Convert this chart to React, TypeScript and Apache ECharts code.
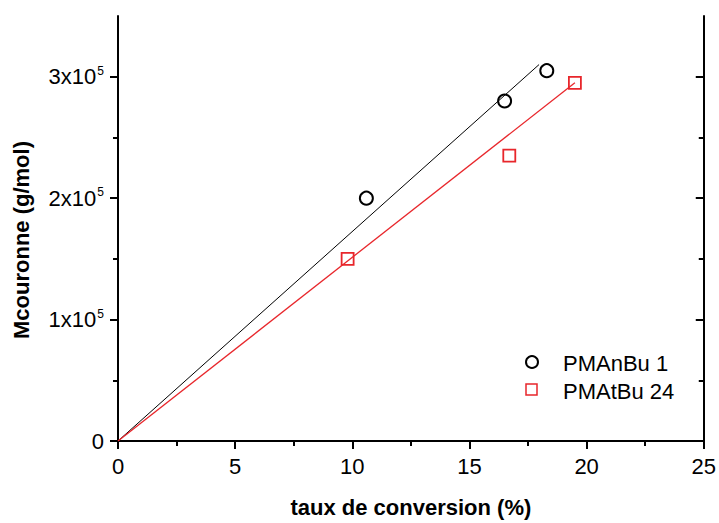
import React, { useEffect, useRef } from "react";
import * as echarts from "echarts";

const seriesNames = ["PMAnBu 1", "PMAtBu 24"];
const nBuPoints: [number, number][] = [
  [10.6, 200000],
  [16.5, 280000],
  [18.3, 305000],
];
const tBuPoints: [number, number][] = [
  [9.8, 150000],
  [16.7, 235000],
  [19.5, 295000],
];
const nBuFit: [number, number][] = [
  [0, 0],
  [17.97, 310000],
];
const tBuFit: [number, number][] = [
  [0, 0],
  [19.5, 295000],
];
const yMajor = [0, 100000, 200000, 300000];
const yMinor = [50000, 150000, 250000];
const yLabels: Record<number, string> = {
  0: "0",
  100000: "{a|1x10}{b|5}",
  200000: "{a|2x10}{b|5}",
  300000: "{a|3x10}{b|5}",
};
const xTitle = "taux de conversion (%)";
const yTitle = "Mcouronne (g/mol)";

const FONT = "Liberation Sans, Arial, sans-serif";
const RED = "#e8262b";

export default function App() {
  const ref = useRef<HTMLDivElement>(null);
  useEffect(() => {
    document.body.style.margin = "0";
    if (!ref.current) return;
    const chart = echarts.init(ref.current, undefined, { renderer: "svg" });
    const lineStyle = { color: "#000", width: 2 };
    const baseY = {
      type: "value" as const,
      min: 0,
      max: 350000,
      splitLine: { show: false },
    };
    chart.setOption({
      animation: false,
      backgroundColor: "#fff",
      textStyle: { fontFamily: FONT },
      grid: { left: 118, right: 12, top: 16, bottom: 75, containLabel: false },
      xAxis: [
        {
          type: "value",
          min: 0,
          max: 25,
          interval: 5,
          position: "bottom",
          name: xTitle,
          nameLocation: "middle",
          nameGap: 55,
          nameTextStyle: { fontSize: 22, fontWeight: "bold", color: "#000", fontFamily: FONT },
          axisLine: { show: true, lineStyle },
          axisTick: { show: true, inside: false, length: 8, lineStyle },
          minorTick: { show: true, splitNumber: 2, length: 5, lineStyle },
          axisLabel: { fontSize: 22, color: "#000", margin: 14, fontFamily: FONT },
          splitLine: { show: false },
          minorSplitLine: { show: false },
        },
        {
          type: "value",
          min: 0,
          max: 25,
          interval: 5,
          position: "top",
          axisLine: { show: true, lineStyle },
          axisTick: { show: true, inside: true, length: 8, lineStyle },
          minorTick: { show: true, splitNumber: 2, length: 5, lineStyle },
          axisLabel: { show: false },
          splitLine: { show: false },
          minorSplitLine: { show: false },
        },
      ],
      yAxis: [
        {
          ...baseY,
          position: "left",
          axisLine: { show: true, lineStyle },
          axisTick: { show: true, inside: false, length: 8, lineStyle, customValues: yMajor },
          axisLabel: {
            customValues: yMajor,
            margin: 14,
            color: "#000",
            fontFamily: FONT,
            formatter: (v: number) => yLabels[v] ?? "",
            rich: {
              a: { fontSize: 22, color: "#000", fontFamily: FONT },
              b: { fontSize: 12, color: "#000", fontFamily: FONT, verticalAlign: "top", padding: [0, 0, 12, 1] },
            },
            fontSize: 22,
          },
        },
        {
          ...baseY,
          position: "left",
          axisLine: { show: false },
          axisTick: { show: true, inside: false, length: 5, lineStyle, customValues: yMinor },
          axisLabel: { show: false },
        },
        {
          ...baseY,
          position: "right",
          axisLine: { show: true, lineStyle },
          axisTick: { show: true, inside: true, length: 8, lineStyle, customValues: yMajor },
          axisLabel: { show: false },
        },
        {
          ...baseY,
          position: "right",
          axisLine: { show: false },
          axisTick: { show: true, inside: true, length: 5, lineStyle, customValues: yMinor },
          axisLabel: { show: false },
        },
      ],
      graphic: [
        {
          type: "text",
          x: 21,
          y: 240,
          rotation: Math.PI / 2,
          style: {
            text: yTitle,
            fontSize: 22,
            fontWeight: "bold",
            fontFamily: FONT,
            fill: "#000",
            align: "center",
            verticalAlign: "middle",
          },
        },
        {
          type: "circle",
          shape: { cx: 532, cy: 362, r: 6 },
          style: { fill: "#fff", stroke: "#000", lineWidth: 2 },
        },
        {
          type: "text",
          x: 563,
          y: 363,
          style: {
            text: seriesNames[0],
            fontSize: 22,
            fontFamily: FONT,
            fill: "#000",
            align: "left",
            verticalAlign: "middle",
          },
        },
        {
          type: "rect",
          shape: { x: 526, y: 384, width: 11, height: 11 },
          style: { fill: "#fff", stroke: RED, lineWidth: 1.5 },
        },
        {
          type: "text",
          x: 563,
          y: 391,
          style: {
            text: seriesNames[1],
            fontSize: 22,
            fontFamily: FONT,
            fill: "#000",
            align: "left",
            verticalAlign: "middle",
          },
        },
      ],
      series: [
        {
          name: "fitnBu",
          type: "line",
          data: nBuFit,
          symbol: "none",
          lineStyle: { color: "#000", width: 1 },
          silent: true,
        },
        {
          name: "fittBu",
          type: "line",
          data: tBuFit,
          symbol: "none",
          lineStyle: { color: RED, width: 1.3 },
          silent: true,
        },
        {
          name: seriesNames[0],
          type: "scatter",
          data: nBuPoints,
          symbol: "circle",
          symbolSize: 13,
          itemStyle: { color: "#fff", borderColor: "#000", borderWidth: 2, opacity: 1 },
        },
        {
          name: seriesNames[1],
          type: "scatter",
          data: tBuPoints,
          symbol: "rect",
          symbolSize: 12,
          itemStyle: { color: "#fff", borderColor: RED, borderWidth: 1.8, opacity: 1 },
        },
      ],
    });
    return () => chart.dispose();
  }, []);
  return <div ref={ref} style={{ width: 719, height: 523, overflow: "hidden" }} />;
}
